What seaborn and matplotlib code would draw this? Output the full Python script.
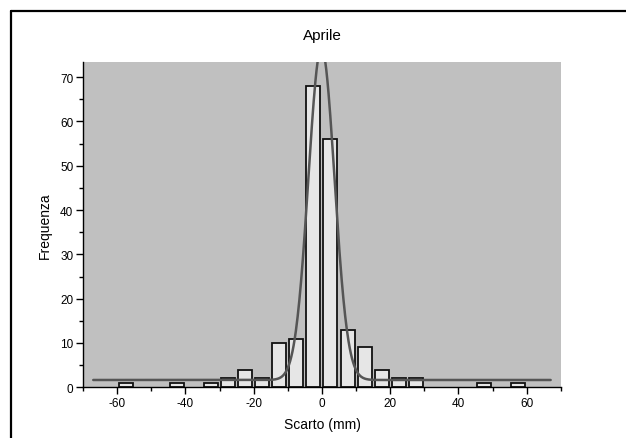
import numpy as np
import matplotlib
matplotlib.use("Agg")
import matplotlib.pyplot as plt
from matplotlib.lines import Line2D
from matplotlib.ticker import MultipleLocator
import seaborn as sns

# Histogram of deviations (bin centres in mm, bin width 5 mm)
bin_centers = [-57.5, -42.5, -32.5, -27.5, -22.5, -17.5, -12.5, -7.5, -2.5,
               2.5, 7.5, 12.5, 17.5, 22.5, 27.5, 47.5, 57.5]
counts = [1, 1, 1, 2, 4, 2, 10, 11, 68, 56, 13, 9, 4, 2, 2, 1, 1]

# Gaussian fit parameters (offset, amplitude, centre, sigma)
fit_y0 = 1.65
fit_amp = 75.0
fit_xc = -0.15
fit_sigma = 3.83
fit_range = (-67, 67)

title = "Aprile"
xlabel = "Scarto (mm)"
ylabel = "Frequenza"

sns.set_theme(style="ticks")
plt.rcParams["font.family"] = ["Liberation Sans", "DejaVu Sans"]
plt.rcParams["axes.unicode_minus"] = False
plt.rcParams["text.color"] = "black"
plt.rcParams["axes.labelcolor"] = "black"
plt.rcParams["xtick.color"] = "black"
plt.rcParams["ytick.color"] = "black"

fig = plt.figure(figsize=(6.26, 4.39), dpi=100)
ax = fig.add_axes([0.1326, 0.1155, 0.7634, 0.7417])
ax.set_facecolor("#c0c0c0")

sns.barplot(x=bin_centers, y=counts, native_scale=True, width=0.82,
            color="#e6e6e6", saturation=1, edgecolor="#111111",
            linewidth=1.3, ax=ax, zorder=2)

xs = np.linspace(fit_range[0], fit_range[1], 800)
ys = fit_y0 + fit_amp * np.exp(-(xs - fit_xc) ** 2 / (2 * fit_sigma ** 2))
sns.lineplot(x=xs, y=ys, color="#555555", linewidth=1.8, ax=ax, zorder=3)

ax.set_xlim(-70, 70)
ax.set_ylim(0, 73.5)
ax.xaxis.set_major_locator(MultipleLocator(20))
ax.xaxis.set_minor_locator(MultipleLocator(10))
ax.yaxis.set_major_locator(MultipleLocator(10))
ax.yaxis.set_minor_locator(MultipleLocator(5))
ax.tick_params(axis="both", which="major", direction="out", length=5,
               width=1, color="black", labelsize=8.5, pad=2)
ax.tick_params(axis="both", which="minor", direction="out", length=3,
               width=1, color="black")

for side in ("top", "right"):
    ax.spines[side].set_visible(False)
for side in ("left", "bottom"):
    ax.spines[side].set_color("black")
    ax.spines[side].set_linewidth(1.0)

ax.set_title(title, fontsize=11, pad=16, color="black")
ax.set_xlabel(xlabel, fontsize=10, labelpad=6)
ax.set_ylabel(ylabel, fontsize=10, labelpad=6)

# Frame lines along the top and left of the page
fig.add_artist(Line2D([10.5 / 626, 1.0], [1 - 11.5 / 439, 1 - 11.5 / 439],
                      transform=fig.transFigure, color="black", linewidth=1.6))
fig.add_artist(Line2D([10.5 / 626, 10.5 / 626], [0.0, 1 - 11.5 / 439],
                      transform=fig.transFigure, color="black", linewidth=1.6))

fig.savefig("out.png", dpi=100)
